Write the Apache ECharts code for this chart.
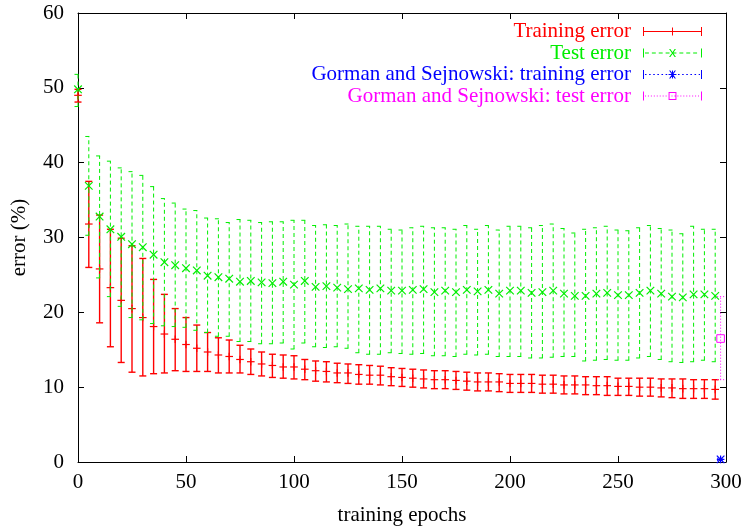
<!DOCTYPE html>
<html>
<head>
<meta charset="utf-8">
<script src="https://cdn.jsdelivr.net/npm/echarts@6/dist/echarts.min.js"></script>
<style>
  html, body { margin: 0; padding: 0; background: #fff; }
  #main { width: 745px; height: 527px; }
</style>
</head>
<body>
<div id="main"></div>
<script>
// data
var epochs = [0, 5, 10, 15, 20, 25, 30, 35, 40, 45, 50, 55, 60, 65, 70, 75, 80, 85, 90, 95,
  100, 105, 110, 115, 120, 125, 130, 135, 140, 145, 150, 155, 160, 165, 170, 175, 180, 185, 190, 195,
  200, 205, 210, 215, 220, 225, 230, 235, 240, 245, 250, 255, 260, 265, 270, 275, 280, 285, 290, 295]
var trainMean = [49.0, 31.8, 25.8, 23.3, 21.6, 20.5, 19.3, 18.1, 17.1, 16.4, 15.7, 15.2, 14.7, 14.3, 14.1, 13.7, 13.4, 13.1, 12.9, 12.7,
  12.7, 12.4, 12.2, 12.1, 11.9, 11.9, 11.7, 11.6, 11.6, 11.4, 11.3, 11.2, 11.1, 11.0, 11.0, 10.9, 10.8, 10.7, 10.7, 10.7,
  10.5, 10.5, 10.5, 10.4, 10.4, 10.3, 10.3, 10.3, 10.2, 10.2, 10.1, 10.1, 10.0, 10.0, 9.9, 9.9, 9.8, 9.8, 9.8, 9.7]
var trainLow = [48.1, 26.0, 18.6, 15.4, 13.3, 12.0, 11.5, 11.8, 11.9, 12.2, 12.1, 12.1, 12.1, 11.9, 11.9, 11.9, 11.7, 11.5, 11.3, 11.2,
  11.1, 11.0, 10.8, 10.7, 10.6, 10.5, 10.4, 10.4, 10.3, 10.2, 10.1, 10.0, 9.9, 9.8, 9.8, 9.7, 9.6, 9.5, 9.5, 9.4,
  9.3, 9.3, 9.3, 9.2, 9.2, 9.1, 9.1, 9.0, 9.0, 8.9, 8.9, 8.9, 8.8, 8.8, 8.7, 8.6, 8.5, 8.5, 8.5, 8.4]
var trainHigh = [49.8, 37.5, 33.0, 31.1, 29.9, 28.9, 27.2, 24.4, 22.4, 20.5, 19.3, 18.3, 17.3, 16.6, 16.3, 15.6, 15.1, 14.7, 14.4, 14.3,
  14.2, 13.7, 13.5, 13.4, 13.2, 13.1, 13.0, 12.9, 12.8, 12.6, 12.5, 12.4, 12.3, 12.2, 12.2, 12.1, 12.0, 11.9, 11.9, 11.8,
  11.7, 11.7, 11.7, 11.6, 11.6, 11.5, 11.5, 11.4, 11.4, 11.4, 11.2, 11.2, 11.2, 11.2, 11.1, 11.1, 11.1, 11.0, 11.0, 11.0]
var testMean = [49.8, 36.9, 32.8, 31.1, 30.1, 29.1, 28.7, 27.7, 26.7, 26.3, 25.9, 25.6, 24.9, 24.7, 24.5, 24.1, 24.2, 24.0, 23.9, 24.1,
  23.7, 24.2, 23.4, 23.5, 23.3, 23.1, 23.2, 23.0, 23.2, 22.9, 22.9, 23.0, 23.1, 22.7, 22.9, 22.7, 23.0, 22.8, 23.0, 22.5,
  22.9, 22.9, 22.6, 22.7, 22.9, 22.5, 22.2, 22.2, 22.5, 22.6, 22.3, 22.3, 22.6, 22.9, 22.5, 22.1, 22.0, 22.4, 22.4, 22.2]
var testLow = [47.5, 30.3, 24.6, 22.1, 20.8, 19.3, 19.0, 18.5, 18.2, 18.1, 18.0, 17.6, 17.3, 16.8, 16.8, 16.1, 16.1, 15.8, 15.8, 15.9,
  15.1, 15.9, 15.4, 15.3, 15.4, 15.2, 14.6, 14.4, 14.4, 14.6, 14.5, 14.4, 14.5, 14.2, 14.2, 14.1, 14.4, 14.3, 14.4, 14.1,
  14.1, 14.1, 13.9, 13.9, 14.0, 14.1, 14.1, 13.5, 13.6, 13.7, 13.6, 13.6, 13.9, 14.1, 13.7, 13.4, 13.3, 13.4, 13.6, 13.4]
var testHigh = [51.8, 43.5, 40.9, 40.2, 39.3, 38.8, 38.3, 36.8, 35.2, 34.6, 33.8, 33.6, 32.6, 32.5, 32.0, 32.4, 32.3, 32.0, 32.1, 32.1,
  32.3, 32.3, 31.6, 31.7, 31.6, 31.8, 31.5, 31.5, 31.5, 31.1, 31.0, 31.3, 31.5, 31.3, 31.3, 31.1, 31.6, 31.1, 31.6, 31.0,
  31.5, 31.5, 31.3, 31.6, 31.8, 31.2, 30.6, 31.1, 31.3, 31.5, 31.0, 30.9, 31.3, 31.6, 31.2, 31.0, 30.5, 31.5, 31.1, 31.1]
// Gorman and Sejnowski: [epoch, mean, low, high]
var gsTrain = [[297.5, 0.35, 0.2, 0.5]]
var gsTest = [[297.5, 16.5, 11.0, 22.1]]
var seriesNames = ['Training error', 'Test error', 'Gorman and Sejnowski: training error', 'Gorman and Sejnowski: test error']
var seriesColors = ['#ff0000', '#00ee00', '#0000ff', '#ff00ff']

var FONT = '"Liberation Serif", "Times New Roman", serif'

function rows (x, m, lo, hi) {
    return x.map(function (v, i) { return [v, m[i], lo[i], hi[i]] })
}

function markerShapes (kind, cx, cy, color) {
    var s = 3.8
    var st = { stroke: color, lineWidth: 1.2 }
    var out = []
    if (kind === 'plus' || kind === 'star') {
        out.push({ type: 'line', shape: { x1: cx - s, y1: cy, x2: cx + s, y2: cy }, style: st })
        out.push({ type: 'line', shape: { x1: cx, y1: cy - s, x2: cx, y2: cy + s }, style: st })
    }
    if (kind === 'cross' || kind === 'star') {
        out.push({ type: 'line', shape: { x1: cx - s, y1: cy - s, x2: cx + s, y2: cy + s }, style: st })
        out.push({ type: 'line', shape: { x1: cx - s, y1: cy + s, x2: cx + s, y2: cy - s }, style: st })
    }
    if (kind === 'square') {
        out.push({ type: 'rect', shape: { x: cx - s, y: cy - s, width: 2 * s, height: 2 * s }, style: { stroke: color, fill: 'none', lineWidth: 1 } })
    }
    return out
}

function errorBars (color, dash, marker, width) {
    return function (params, api) {
        var x = api.value(0)
        var c = api.coord([x, api.value(1)])
        var lo = api.coord([x, api.value(2)])
        var hi = api.coord([x, api.value(3)])
        var w = 3.5
        var st = { stroke: color, lineWidth: width, lineDash: dash }
        var children = [
            { type: 'line', shape: { x1: c[0], y1: lo[1], x2: c[0], y2: hi[1] }, style: st },
            { type: 'line', shape: { x1: c[0] - w, y1: lo[1], x2: c[0] + w, y2: lo[1] }, style: st },
            { type: 'line', shape: { x1: c[0] - w, y1: hi[1], x2: c[0] + w, y2: hi[1] }, style: st },
        ]
        return { type: 'group', children: children.concat(markerShapes(marker, c[0], c[1], color)) }
    }
}

// legend icons: error-bar sample with caps and the marker in the middle (box 60 x 9)
function segs (len, gap) {
    var p = ''
    for (var x = 2; x < 58; x += len + gap) {
        var e = Math.min(x + len, 58)
        p += 'M' + x + ',4H' + e + 'V5H' + x + 'Z '
    }
    return p
}
var caps = 'M0,0H1V9H0Z M59,0H60V9H59Z '
var plusIcon = 'M29.5,0.5H30.5V8.5H29.5Z M26,4H34V5H26Z '
var crossIcon = 'M26.5,0.5L27.8,0.5L33.5,8.5L32.2,8.5Z M32.2,0.5L33.5,0.5L27.8,8.5L26.5,8.5Z '
var squareIcon = 'M26,0.5H34V8.5H26Z M27,1.5V7.5H33V1.5Z '
var legendIcons = [
    'path://' + caps + 'M1,4H59V5H1Z ' + plusIcon,
    'path://' + caps + segs(4, 3) + crossIcon,
    'path://' + caps + segs(1.6, 2.6) + plusIcon + crossIcon,
    'path://' + caps + segs(1, 2) + squareIcon,
]

var datasets = [
    rows(epochs, trainMean, trainLow, trainHigh),
    rows(epochs, testMean, testLow, testHigh),
    gsTrain,
    gsTest,
]
var dashes = [null, [4, 3], [1.5, 2.5], [1, 2]]
var markers = ['plus', 'cross', 'star', 'square']

var tickStyle = { show: true, inside: true, length: 6, lineStyle: { color: '#000' } }
var lineStyle = { show: true, onZero: false, lineStyle: { color: '#000', width: 1 } }
var labelStyle = { color: '#000', fontSize: 21, fontFamily: FONT }

var option = {
    backgroundColor: '#ffffff',
    animation: false,
    textStyle: { fontFamily: FONT },
    grid: { left: 78, right: 19, top: 13, bottom: 65, outerBoundsMode: 'none', containLabel: false },
    legend: {
        orient: 'vertical',
        align: 'right',
        right: 43,
        top: 21,
        padding: 0,
        itemWidth: 59,
        itemHeight: 9,
        itemGap: 0.5,
        selectedMode: false,
        textStyle: { fontSize: 21, lineHeight: 18, fontFamily: FONT, padding: [0, 7, 0, 0] },
        data: seriesNames.map(function (n, i) {
            return {
                name: n,
                icon: legendIcons[i],
                itemStyle: { color: seriesColors[i], borderWidth: 0 },
                textStyle: { color: seriesColors[i] },
            }
        }),
    },
    xAxis: [
        {
            type: 'value', min: 0, max: 300, interval: 50,
            name: 'training epochs', nameLocation: 'middle', nameGap: 43,
            nameTextStyle: labelStyle,
            axisLine: lineStyle, axisTick: tickStyle,
            axisLabel: Object.assign({ margin: 10 }, labelStyle),
            splitLine: { show: false },
        },
        {
            type: 'value', min: 0, max: 300, interval: 50, position: 'top',
            axisLine: lineStyle, axisTick: tickStyle,
            axisLabel: { show: false }, splitLine: { show: false },
        },
    ],
    yAxis: [
        {
            type: 'value', min: 0, max: 60, interval: 10,
            name: 'error (%)', nameLocation: 'middle', nameGap: 48, nameRotate: 90,
            nameTextStyle: labelStyle,
            axisLine: lineStyle, axisTick: tickStyle,
            axisLabel: Object.assign({ margin: 14 }, labelStyle),
            splitLine: { show: false },
        },
        {
            type: 'value', min: 0, max: 60, interval: 10, position: 'right',
            axisLine: lineStyle, axisTick: tickStyle,
            axisLabel: { show: false }, splitLine: { show: false },
        },
    ],
    series: seriesNames.map(function (n, i) {
        return {
            name: n,
            type: 'custom',
            xAxisIndex: 0,
            yAxisIndex: 0,
            clip: false,
            itemStyle: { color: seriesColors[i] },
            encode: { x: 0, y: [1, 2, 3] },
            renderItem: errorBars(seriesColors[i], dashes[i], markers[i], i === 0 ? 1.4 : 1),
            data: datasets[i],
        }
    }),
}

var myChart = echarts.init(document.getElementById('main'))
myChart.setOption(option)
</script>
</body>
</html>
